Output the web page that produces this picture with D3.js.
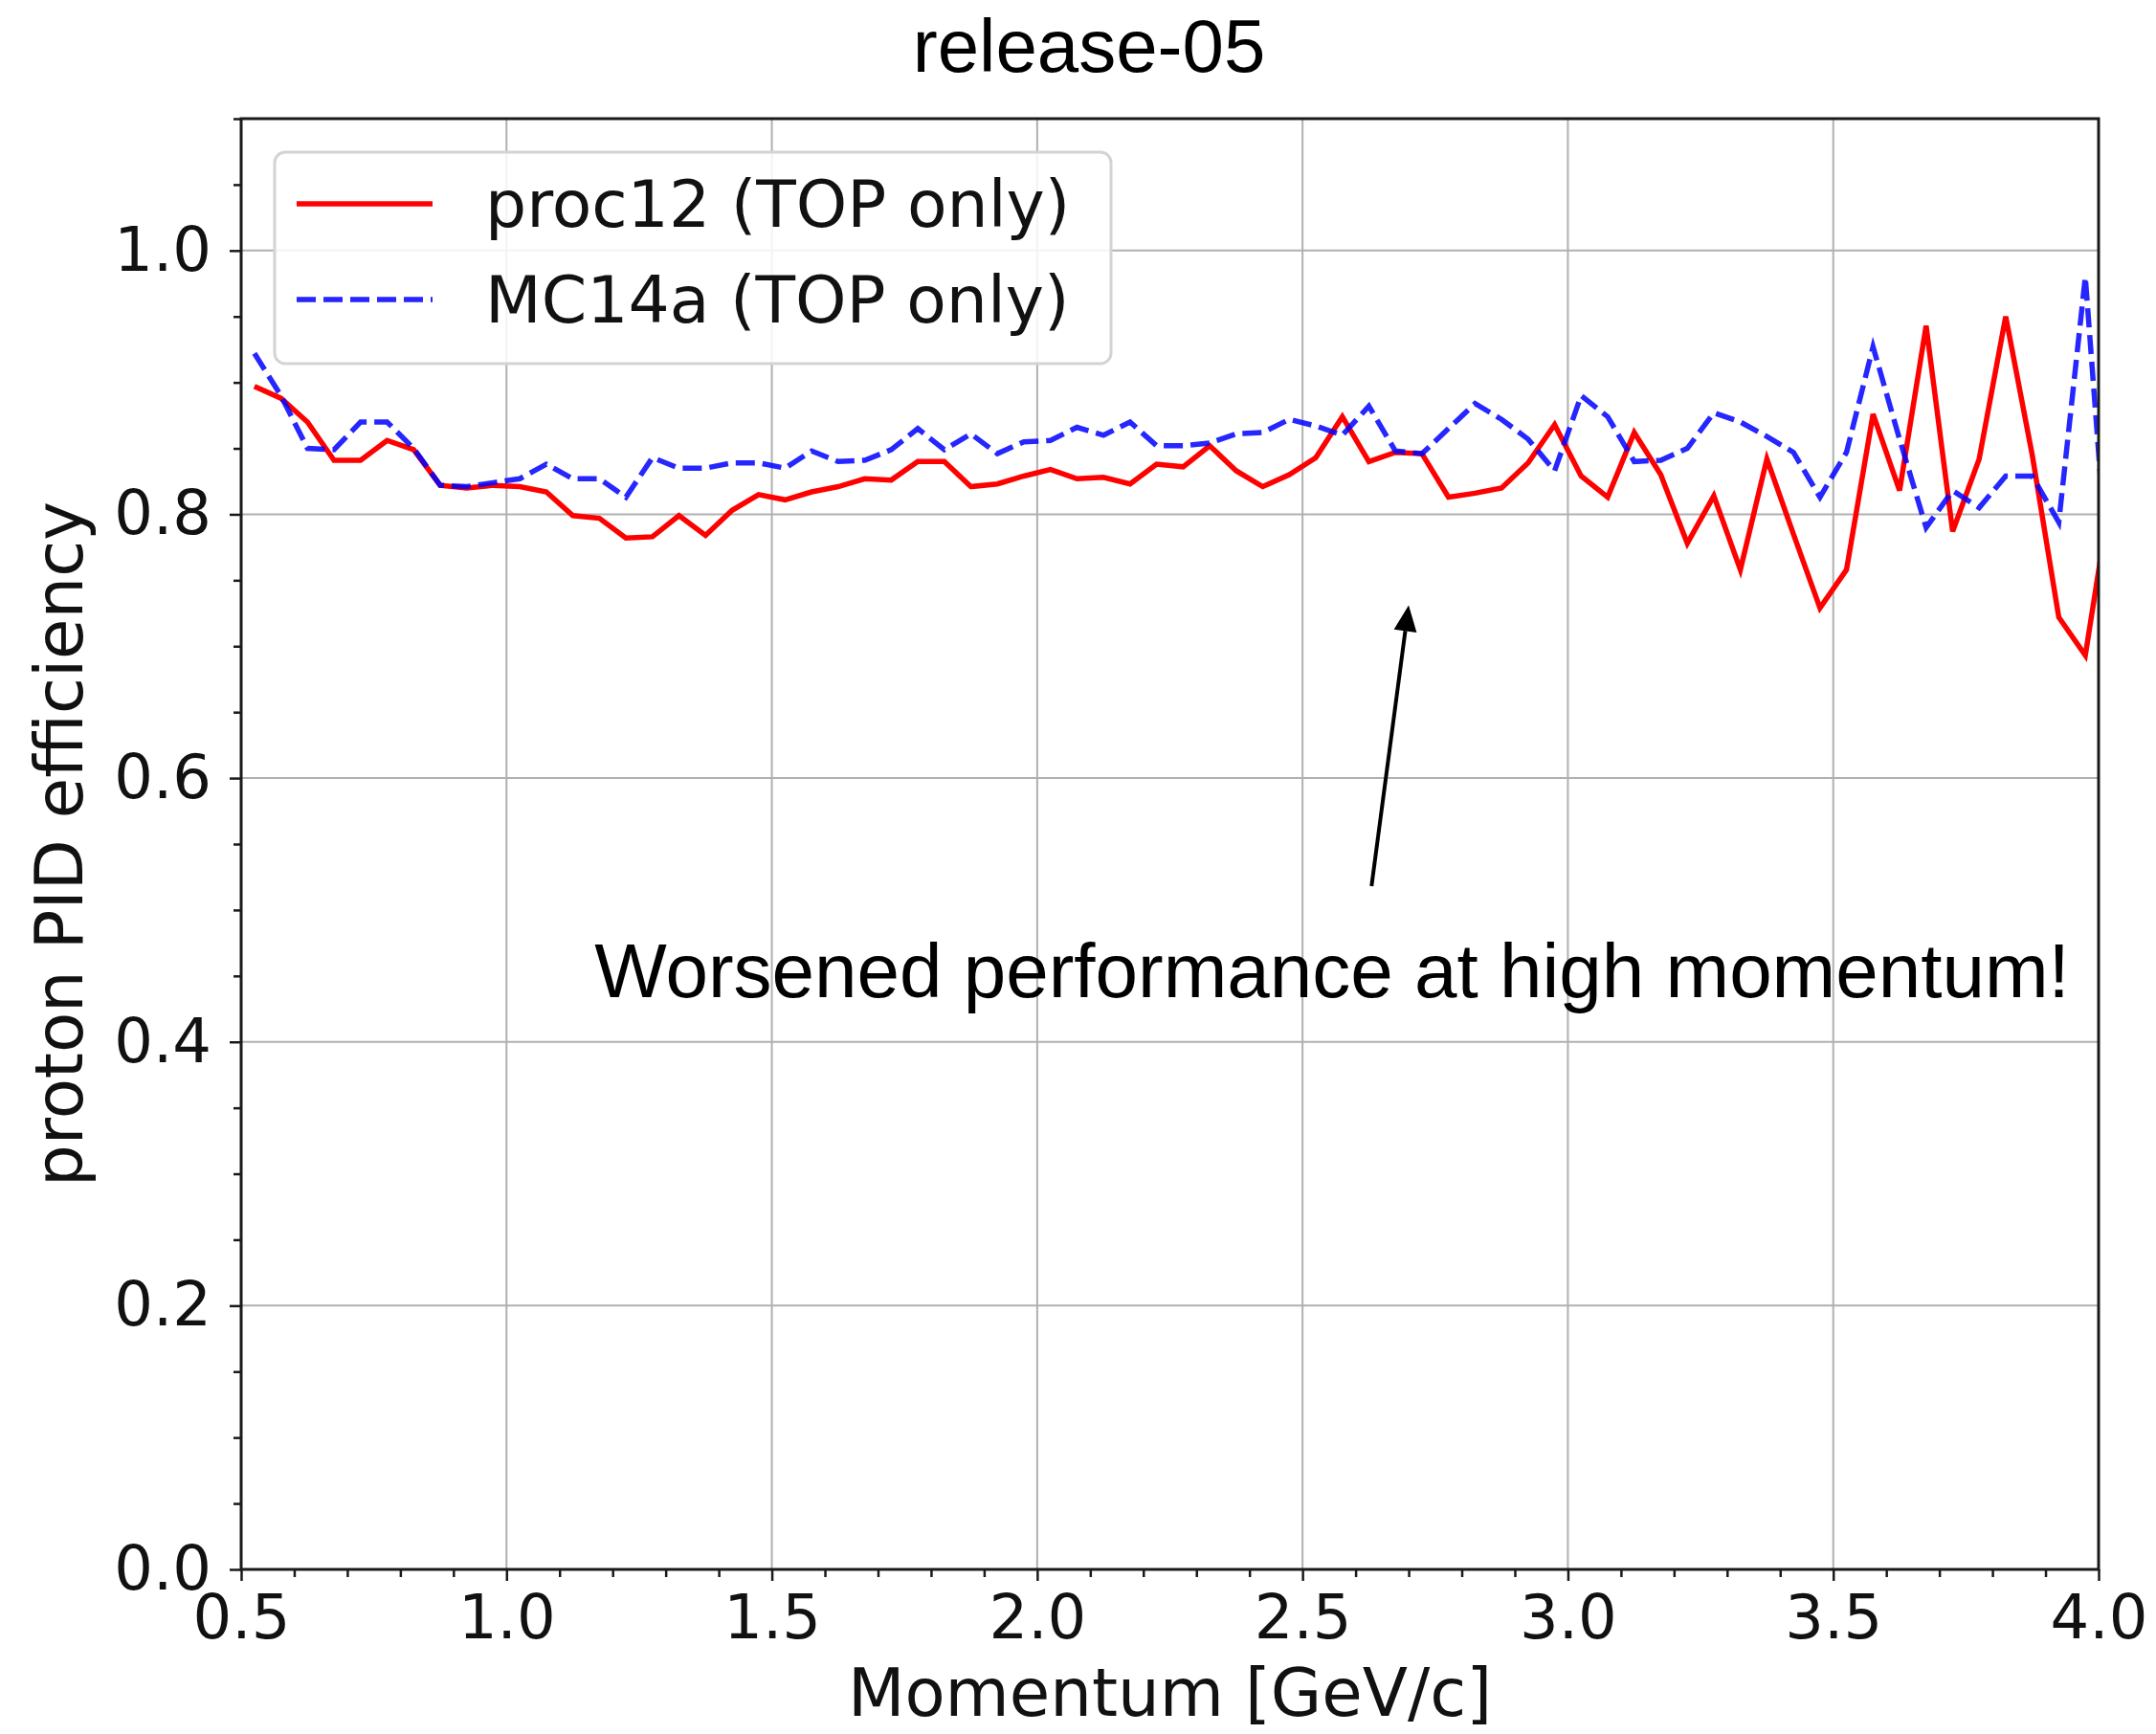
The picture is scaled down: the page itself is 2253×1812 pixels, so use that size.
<!DOCTYPE html>
<html>
<head>
<meta charset="utf-8">
<script src="https://cdn.jsdelivr.net/npm/d3@7"></script>
<style>
  html, body { margin: 0; padding: 0; background: #fff; }
  svg { display: block; }
</style>
</head>
<body>
<svg id="chart" width="2253" height="1812"></svg>
<script>
// ---------- data ----------
const momentum = [
  0.525, 0.575, 0.625, 0.675, 0.725, 0.775, 0.825, 0.875, 0.925, 0.975,
  1.025, 1.075, 1.125, 1.175, 1.225, 1.275, 1.325, 1.375, 1.425, 1.475,
  1.525, 1.575, 1.625, 1.675, 1.725, 1.775, 1.825, 1.875, 1.925, 1.975,
  2.025, 2.075, 2.125, 2.175, 2.225, 2.275, 2.325, 2.375, 2.425, 2.475,
  2.525, 2.575, 2.625, 2.675, 2.725, 2.775, 2.825, 2.875, 2.925, 2.975,
  3.025, 3.075, 3.125, 3.175, 3.225, 3.275, 3.325, 3.375, 3.425, 3.475,
  3.525, 3.575, 3.625, 3.675, 3.725, 3.775, 3.825, 3.875, 3.925, 3.975,
  4.025
];
const proc12 = [
  0.897, 0.888, 0.870, 0.841, 0.841, 0.856, 0.849, 0.822, 0.820, 0.822,
  0.821, 0.817, 0.799, 0.797, 0.782, 0.783, 0.799, 0.784, 0.803, 0.815,
  0.811, 0.817, 0.821, 0.827, 0.826, 0.840, 0.840, 0.821, 0.823, 0.829,
  0.834, 0.827, 0.828, 0.823, 0.838, 0.836, 0.852, 0.833, 0.821, 0.830,
  0.843, 0.874, 0.840, 0.847, 0.846, 0.813, 0.816, 0.820, 0.839, 0.868,
  0.829, 0.813, 0.862, 0.830, 0.778, 0.814, 0.758, 0.842, 0.785, 0.729,
  0.758, 0.876, 0.818, 0.943, 0.787, 0.842, 0.950, 0.845, 0.722, 0.693,
  0.821
];
const mc14a = [
  0.922, 0.890, 0.850, 0.849, 0.870, 0.870, 0.850, 0.822, 0.821, 0.824,
  0.827, 0.838, 0.827, 0.827, 0.813, 0.843, 0.835, 0.835, 0.839, 0.839,
  0.835, 0.848, 0.840, 0.841, 0.849, 0.865, 0.849, 0.861, 0.846, 0.855,
  0.856, 0.866, 0.860, 0.870, 0.852, 0.852, 0.854, 0.861, 0.862, 0.872,
  0.867, 0.860, 0.882, 0.848, 0.846, 0.865, 0.884, 0.872, 0.857, 0.833,
  0.890, 0.874, 0.840, 0.841, 0.850, 0.877, 0.870, 0.859, 0.847, 0.813,
  0.847, 0.927, 0.857, 0.790, 0.818, 0.805, 0.829, 0.829, 0.794, 0.980,
  0.714
];
const seriesNames = ["proc12 (TOP only)", "MC14a (TOP only)"];
const xTicks = [0.5, 1.0, 1.5, 2.0, 2.5, 3.0, 3.5, 4.0];
const yTicks = [0.0, 0.2, 0.4, 0.6, 0.8, 1.0];
const xMinorTicks = d3.range(5, 41).map(d => d / 10);
const yMinorTicks = d3.range(0, 23).map(d => d * 0.05);
const titleText = "release-05";
const xLabel = "Momentum [GeV/c]";
const yLabel = "proton PID efficiency";
const noteText = "Worsened performance at high momentum!";
const arrowFrom = [2.63, 0.518];
const arrowTo = [2.70, 0.731];
const notePos = [1.166, 0.434];

// ---------- layout ----------
const svg = d3.select("#chart");
const L = 252, R = 2193, T = 124, B = 1640;
const x = d3.scaleLinear().domain([0.5, 4.0]).range([L, R]);
const y = d3.scaleLinear().domain([0, 1.1]).range([B, T]);
const axisFont = "'DejaVu Sans', sans-serif";
const helv = "'Liberation Sans', Arial, Helvetica, sans-serif";

svg.append("rect").attr("width", 2253).attr("height", 1812).attr("fill", "#fff");

// grid
const grid = svg.append("g");
grid.selectAll("line.gx").data(xTicks).join("line")
  .attr("x1", d => x(d)).attr("x2", d => x(d)).attr("y1", T).attr("y2", B)
  .attr("stroke", "#b0b0b0").attr("stroke-width", 2);
grid.selectAll("line.gy").data(yTicks).join("line")
  .attr("x1", L).attr("x2", R).attr("y1", d => y(d)).attr("y2", d => y(d))
  .attr("stroke", "#b0b0b0").attr("stroke-width", 2);

// clip
svg.append("clipPath").attr("id", "plotclip").append("rect")
  .attr("x", L).attr("y", T).attr("width", R - L).attr("height", B - T);

const line = d3.line().x((d, i) => x(momentum[i])).y(d => y(d));
const plot = svg.append("g").attr("clip-path", "url(#plotclip)");
plot.append("path").datum(proc12).attr("d", line)
  .attr("fill", "none").attr("stroke", "#ff0000").attr("stroke-width", 5.5)
  .attr("stroke-linejoin", "miter");
plot.append("path").datum(mc14a).attr("d", line)
  .attr("fill", "none").attr("stroke", "#0000ff").attr("stroke-width", 5.5)
  .attr("stroke-dasharray", "20,8").attr("opacity", 0.85);

// axes
const xAxis = svg.append("g").attr("transform", `translate(0,${B})`)
  .call(d3.axisBottom(x).tickValues(xTicks).tickFormat(d3.format(".1f"))
    .tickSize(12).tickPadding(15));
const xMinor = svg.append("g").attr("transform", `translate(0,${B})`)
  .call(d3.axisBottom(x).tickValues(xMinorTicks.filter(v => !xTicks.some(t => Math.abs(t - v) < 1e-9)))
    .tickFormat("").tickSize(8));
const yAxis = svg.append("g").attr("transform", `translate(${L},0)`)
  .call(d3.axisLeft(y).tickValues(yTicks).tickFormat(d3.format(".1f"))
    .tickSize(12).tickPadding(19));
const yMinor = svg.append("g").attr("transform", `translate(${L},0)`)
  .call(d3.axisLeft(y).tickValues(yMinorTicks.filter(v => !yTicks.some(t => Math.abs(t - v) < 1e-9)))
    .tickFormat("").tickSize(8));
[xAxis, xMinor, yAxis, yMinor].forEach(g => {
  g.select(".domain").remove();
  g.selectAll(".tick line").attr("stroke", "#1a1a1a").attr("stroke-width", 2.5);
  g.selectAll(".tick text").attr("font-family", axisFont).attr("font-size", 64)
    .attr("fill", "#111");
});

// spines
svg.append("rect").attr("x", L).attr("y", T).attr("width", R - L).attr("height", B - T)
  .attr("fill", "none").attr("stroke", "#1a1a1a").attr("stroke-width", 3);

// labels
svg.append("text").attr("x", (L + R) / 2).attr("y", 1793).attr("text-anchor", "middle")
  .attr("font-family", axisFont).attr("font-size", 69).attr("fill", "#111").text(xLabel);
svg.append("text").attr("transform", `translate(86,${(T + B) / 2}) rotate(-90)`)
  .attr("text-anchor", "middle")
  .attr("font-family", axisFont).attr("font-size", 69).attr("fill", "#111").text(yLabel);
svg.append("text").attr("x", 1138).attr("y", 75).attr("text-anchor", "middle")
  .attr("font-family", helv).attr("font-size", 78).attr("fill", "#000").text(titleText);

// legend
const lg = svg.append("g");
lg.append("rect").attr("x", 287).attr("y", 159).attr("width", 874).attr("height", 221)
  .attr("rx", 11).attr("fill", "#fff").attr("fill-opacity", 0.85)
  .attr("stroke", "#d3d3d3").attr("stroke-width", 3);
const legendRows = [
  { name: seriesNames[0], color: "#ff0000", dash: null, yy: 213 },
  { name: seriesNames[1], color: "#0000ff", dash: "20,8", yy: 313 }
];
legendRows.forEach(r => {
  lg.append("line").attr("x1", 310).attr("x2", 452).attr("y1", r.yy).attr("y2", r.yy)
    .attr("stroke", r.color).attr("stroke-width", 5.5)
    .attr("stroke-dasharray", r.dash).attr("opacity", r.dash ? 0.85 : 1);
  lg.append("text").attr("x", 507).attr("y", r.yy).attr("dy", "0.35em")
    .attr("font-family", axisFont).attr("font-size", 68).attr("fill", "#111").text(r.name);
});

// annotation
const ax0 = x(arrowFrom[0]), ay0 = y(arrowFrom[1]);
const ax1 = x(arrowTo[0]), ay1 = y(arrowTo[1]);
const ang = Math.atan2(ay1 - ay0, ax1 - ax0);
const headLen = 27, headW = 12;
const bx = ax1 - headLen * Math.cos(ang), by = ay1 - headLen * Math.sin(ang);
svg.append("line").attr("x1", ax0).attr("y1", ay0).attr("x2", bx).attr("y2", by)
  .attr("stroke", "#000").attr("stroke-width", 4);
svg.append("polygon").attr("points", [
  [ax1, ay1],
  [bx + headW * Math.sin(ang), by - headW * Math.cos(ang)],
  [bx - headW * Math.sin(ang), by + headW * Math.cos(ang)]
].map(p => p.join(",")).join(" ")).attr("fill", "#000");
svg.append("text").attr("x", x(notePos[0])).attr("y", y(notePos[1]))
  .attr("font-family", helv).attr("font-size", 80).attr("fill", "#000").text(noteText);
</script>
</body>
</html>
